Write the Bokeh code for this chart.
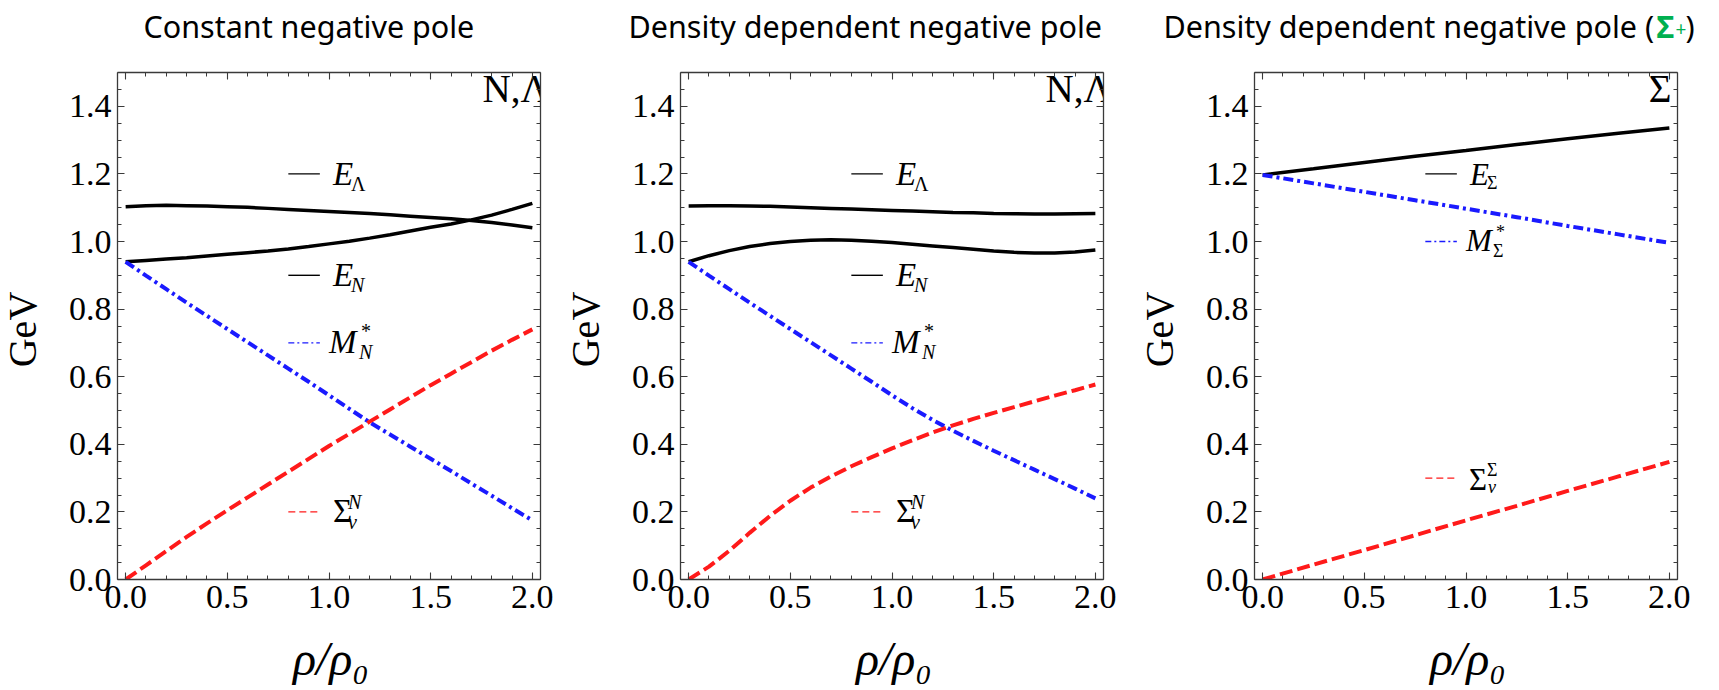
import math
from bokeh.plotting import figure
from bokeh.models import (FixedTicker, LinearAxis, PrintfTickFormatter, Range1d,
                          CustomJSTickFormatter)
from bokeh.layouts import row, column
from bokeh.embed import file_html
from bokeh.resources import INLINE
from bokeh.core.properties import value

# ---------------- data ----------------
X21 = [0.0, 0.1, 0.2, 0.3, 0.4, 0.5, 0.6, 0.7, 0.8, 0.9, 1.0,
       1.1, 1.2, 1.3, 1.4, 1.5, 1.6, 1.7, 1.8, 1.9, 2.0]
X9 = [0.0, 0.25, 0.5, 0.75, 1.0, 1.25, 1.5, 1.75, 2.0]

# Panel 1: constant negative pole
P1_E_LAMBDA = [1.103, 1.106, 1.107, 1.106, 1.105, 1.103, 1.101, 1.098, 1.095, 1.092, 1.089,
               1.086, 1.083, 1.079, 1.075, 1.071, 1.067, 1.062, 1.056, 1.049, 1.041]
P1_E_N = [0.940, 0.944, 0.948, 0.952, 0.957, 0.962, 0.967, 0.972, 0.978, 0.985, 0.993,
          1.001, 1.010, 1.020, 1.031, 1.042, 1.052, 1.064, 1.078, 1.095, 1.113]
P1_M_N = [0.940, 0.899, 0.859, 0.819, 0.780, 0.741, 0.702, 0.663, 0.624, 0.585, 0.545,
          0.505, 0.465, 0.429, 0.393, 0.357, 0.321, 0.284, 0.248, 0.211, 0.175]
P1_SIGMA_V = [0.000, 0.042, 0.084, 0.126, 0.166, 0.205, 0.243, 0.281, 0.319, 0.357, 0.395,
              0.431, 0.467, 0.503, 0.539, 0.575, 0.609, 0.643, 0.677, 0.709, 0.740]

# Panel 2: density dependent negative pole
P2_E_LAMBDA = [1.105, 1.106, 1.106, 1.105, 1.104, 1.102, 1.100, 1.098, 1.096, 1.094, 1.092,
               1.090, 1.088, 1.086, 1.085, 1.083, 1.082, 1.081, 1.081, 1.082, 1.083]
P2_E_N = [0.940, 0.958, 0.973, 0.985, 0.994, 1.000, 1.004, 1.005, 1.004, 1.001, 0.997,
          0.992, 0.987, 0.982, 0.977, 0.972, 0.968, 0.966, 0.966, 0.969, 0.975]
P2_M_N = [0.940, 0.899, 0.859, 0.819, 0.780, 0.741, 0.702, 0.663, 0.624, 0.585, 0.545,
          0.507, 0.472, 0.440, 0.410, 0.381, 0.353, 0.325, 0.297, 0.269, 0.240]
P2_SIGMA_V = [0.000, 0.038, 0.085, 0.138, 0.188, 0.233, 0.272, 0.305, 0.335, 0.362, 0.388,
              0.412, 0.435, 0.456, 0.475, 0.493, 0.510, 0.527, 0.544, 0.560, 0.577]

# Panel 3: density dependent negative pole (Sigma+)
P3_E_SIGMA = [1.197, 1.215, 1.234, 1.252, 1.269, 1.287, 1.304, 1.320, 1.336]
P3_M_SIGMA = [1.197, 1.172, 1.147, 1.122, 1.097, 1.072, 1.046, 1.021, 0.996]
P3_SIGMA_V = [0.000, 0.044, 0.087, 0.131, 0.175, 0.218, 0.262, 0.305, 0.348]

X_TICKS = [0.0, 0.5, 1.0, 1.5, 2.0]
X_MINOR = [0.0, 0.1, 0.2, 0.3, 0.4, 0.5, 0.6, 0.7, 0.8, 0.9, 1.0,
           1.1, 1.2, 1.3, 1.4, 1.5, 1.6, 1.7, 1.8, 1.9, 2.0]
Y_TICKS = [0.0, 0.2, 0.4, 0.6, 0.8, 1.0, 1.2, 1.4]
Y_MINOR = [0.0, 0.05, 0.1, 0.15, 0.2, 0.25, 0.3, 0.35, 0.4, 0.45, 0.5, 0.55, 0.6, 0.65,
           0.7, 0.75, 0.8, 0.85, 0.9, 0.95, 1.0, 1.05, 1.1, 1.15, 1.2, 1.25, 1.3, 1.35,
           1.4, 1.45, 1.5]

TITLES = ["Constant negative pole", "Density dependent negative pole",
          "Density dependent negative pole ("]
Y_LABEL = "GeV"
X_LABEL = "ρ/ρ₀"

# ---------------- layout / style ----------------
W_TOTAL, H_TOTAL = 1719, 690
TITLE_H = 50                       # title strip
GEV_W = 55                         # strip holding the rotated "GeV"
FW, FH = 423, 507
TOP, BOTTOM = 72 - TITLE_H, 50
LEFT = 117 - GEV_W
RIGHTS = [23, 34, 42]
PANEL_H = TOP + FH + BOTTOM
XLAB_H = H_TOTAL - TITLE_H - PANEL_H
TITLE_SIZE = 30.5
TITLE_LEFT = [143, 628, 1163]      # px from page left
TITLE_MID = 25                     # px from top of title strip (text middle)
SIG_LEFT, PLUS_LEFT, PAREN_LEFT = 1656, 1675, 1685
GEV_CX, GEV_CY = 21.5, 307         # page px (x within strip, y from page top)
XLAB_MID = 658                     # page px from top (text middle)
FRAME = "#3a3a3a"
SERIF = "Liberation Serif"
SANS = "Noto Sans"
BLUE = "#1a1aff"
RED = "#ff1a1a"
GREEN = "#00b050"

XR = (-0.04, 2.04)
YR = (0.0, 1.5)
PXX = FW / (XR[1] - XR[0])
PXY = FH / (YR[1] - YR[0])
LEG_X0, LEG_X1, LEG_TX = 0.80, 0.955, 1.01


def style_axis(ax, ticks, minor, labels):
    ax.ticker = FixedTicker(ticks=ticks, minor_ticks=minor)
    ax.major_tick_in = 7
    ax.major_tick_out = 0
    ax.minor_tick_in = 4
    ax.minor_tick_out = 0
    ax.axis_line_color = FRAME
    ax.axis_line_width = 1.3
    ax.major_tick_line_color = FRAME
    ax.minor_tick_line_color = FRAME
    ax.major_tick_line_width = 1.1
    ax.minor_tick_line_width = 1.0
    if labels:
        ax.formatter = PrintfTickFormatter(format="%.1f")
        ax.major_label_text_font = SERIF
        ax.major_label_text_font_size = "34px"
        ax.major_label_text_color = "black"
        ax.major_label_standoff = 6
    else:
        ax.formatter = CustomJSTickFormatter(code="return ''")
        ax.major_label_standoff = 0


def txt(p, x, y, text, size, font=SERIF, style="normal", color="black", align="left",
        angle=0.0):
    p.text(x=[x], y=[y], text=[text], text_font=value(font), text_font_size=f"{size}px",
           text_font_style=style, text_color=color, text_align=align,
           text_baseline="middle", angle=angle)


def strip(w, h):
    s = figure(width=w, height=h, frame_width=w, frame_height=h, min_border=0,
               x_range=Range1d(0, w), y_range=Range1d(0, h),
               x_axis_location=None, y_axis_location=None,
               output_backend="svg", toolbar_location=None, tools="")
    s.grid.visible = False
    s.outline_line_color = None
    return s


def make_panel(i, series, legend, corner_text, corner_x, corner_align):
    p = figure(frame_width=FW, frame_height=FH,
               width=LEFT + FW + RIGHTS[i], height=PANEL_H,
               min_border_left=LEFT, min_border_right=RIGHTS[i],
               min_border_top=TOP, min_border_bottom=BOTTOM,
               x_range=Range1d(*XR), y_range=Range1d(*YR),
               output_backend="svg", toolbar_location=None, tools="")
    p.grid.visible = False
    p.outline_line_color = None
    style_axis(p.xaxis[0], X_TICKS, X_MINOR, True)
    style_axis(p.yaxis[0], Y_TICKS, Y_MINOR, True)
    top = LinearAxis()
    style_axis(top, X_TICKS, X_MINOR, False)
    p.add_layout(top, "above")
    right = LinearAxis()
    style_axis(right, Y_TICKS, Y_MINOR, False)
    p.add_layout(right, "right")

    for xs, ys, color, dash, w in series:
        p.line(xs, ys, line_color=color, line_width=w, line_dash=dash, line_cap="butt")

    # legend-like annotations (sample line + composed math label)
    for y, color, dash, parts in legend:
        p.line([LEG_X0, LEG_X1], [y, y], line_color=color, line_width=1.4, line_dash=dash)
        for text, dx, dy, size, style in parts:
            txt(p, LEG_TX + dx / PXX, y - dy / PXY, text, size, style=style)

    # corner label (clipped by the frame like the original)
    txt(p, corner_x, 1.454, corner_text, 39, align=corner_align)
    return p


legend12 = [
    (1.2, "black", "solid", [("E", 2, 0, 33, "italic"), ("Λ", 20, 10, 20, "normal")]),
    (0.9, "black", "solid", [("E", 2, 0, 33, "italic"), ("N", 20, 10, 20, "italic")]),
    (0.7, BLUE, "6 3 2 3", [("M", -2, -1, 33, "italic"), ("*", 30, -12, 20, "normal"),
                            ("N", 28, 9, 20, "italic")]),
    (0.2, RED, "7 4", [("Σ", 2, -1, 33, "normal"), ("v", 17, 10, 20, "italic"),
                       ("N", 17, -10, 20, "italic")]),
]
legend3 = [
    (1.2, "black", "solid", [("E", 2, 1, 31, "italic"), ("Σ", 19, 9, 18, "normal")]),
    (1.0, BLUE, "6 3 2 3", [("M", -2, -1, 31, "italic"), ("*", 28, -10, 18, "normal"),
                            ("Σ", 25, 9, 18, "normal")]),
    (0.3, RED, "7 4", [("Σ", 1, 1, 31, "normal"), ("Σ", 19, -8, 18, "normal"),
                       ("v", 20, 9, 18, "italic")]),
]

s1 = [(X21, P1_E_LAMBDA, "black", "solid", 3.5), (X21, P1_E_N, "black", "solid", 3.5),
      (X21, P1_M_N, BLUE, "10 4 3 4", 4), (X21, P1_SIGMA_V, RED, "13 5", 4)]
s2 = [(X21, P2_E_LAMBDA, "black", "solid", 3.5), (X21, P2_E_N, "black", "solid", 3.5),
      (X21, P2_M_N, BLUE, "10 4 3 4", 4), (X21, P2_SIGMA_V, RED, "13 5", 4)]
s3 = [(X9, P3_E_SIGMA, "black", "solid", 3.5), (X9, P3_M_SIGMA, BLUE, "10 4 3 4", 4),
      (X9, P3_SIGMA_V, RED, "13 5", 4)]

panels = [make_panel(0, s1, legend12, "N,Λ", 1.755, "left"),
          make_panel(1, s2, legend12, "N,Λ", 1.755, "left"),
          make_panel(2, s3, legend3, "Σ", 2.01, "right")]

# ---------------- "GeV" strips ----------------
middle = []
frame_left = []
x_cursor = 0
for i, p in enumerate(panels):
    g = strip(GEV_W, PANEL_H)
    txt(g, GEV_CX, PANEL_H - (GEV_CY - TITLE_H), Y_LABEL, 40, align="center",
        angle=math.pi / 2)
    middle += [g, p]
    frame_left.append(x_cursor + GEV_W + LEFT)
    x_cursor += GEV_W + LEFT + FW + RIGHTS[i]

# ---------------- title strip ----------------
t = strip(W_TOTAL, TITLE_H)
ty = TITLE_H - TITLE_MID
for tx, tt in zip(TITLE_LEFT, TITLES):
    txt(t, tx, ty, tt, TITLE_SIZE, font=SANS)
txt(t, SIG_LEFT, ty, "Σ", TITLE_SIZE, font=SANS, style="bold", color=GREEN)
txt(t, PLUS_LEFT, ty - 3, "+", 19, font=SANS, color=GREEN)
txt(t, PAREN_LEFT, ty, ")", TITLE_SIZE, font=SANS)

# ---------------- x-label strip ----------------
b = strip(W_TOTAL, XLAB_H)
by = H_TOTAL - XLAB_MID
for fl in frame_left:
    txt(b, fl + FW / 2 + 2, by, X_LABEL, 48, style="italic", align="center")

layout = column(t, row(*middle, spacing=0), b, spacing=0)
open("out.html", "w").write(file_html(layout, INLINE))
